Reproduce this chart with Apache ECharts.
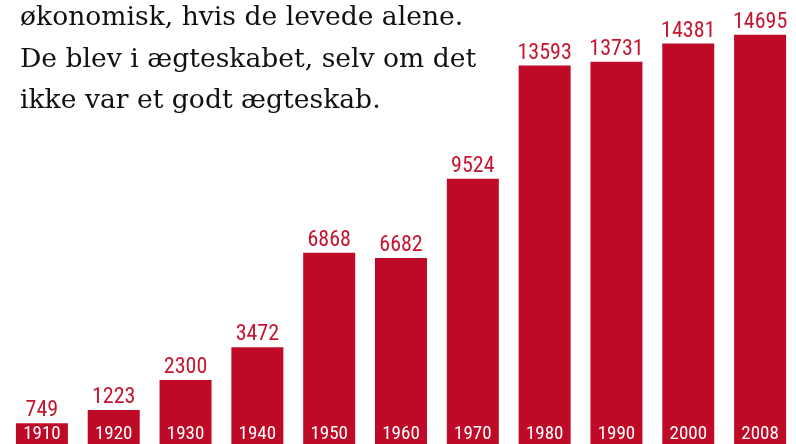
<!DOCTYPE html>
<html><head><meta charset="utf-8">
<script src="https://cdn.jsdelivr.net/npm/echarts@6/dist/echarts.min.js"></script>
<style>html,body{margin:0;padding:0;background:#fff}#c{width:796px;height:444px}</style>
</head><body><div id="c"></div>
<script>
const years = ['1910','1920','1930','1940','1950','1960','1970','1980','1990','2000','2008'];
const values = [749,1223,2300,3472,6868,6682,9524,13593,13731,14381,14695];
const textLines = ['økonomisk, hvis de levede alene.','De blev i ægteskabet, selv om det','ikke var et godt ægteskab.'];
const RED = '#be0a26';
const chart = echarts.init(document.getElementById('c'));
chart.setOption({
  animation:false,
  grid:{left:6,right:-2,top:0,bottom:-2},
  xAxis:{type:'category',data:years,show:false},
  yAxis:{type:'value',min:0,max:15946,show:false},
  graphic: textLines.map((t,i)=>({type:'text',left:20,top:5+i*41.5,style:{text:t,font:'26.6px "DejaVu Serif"',fill:'#111'}})),
  series:[{type:'bar',data:values,barWidth:52,itemStyle:{color:RED},
    label:{show:true,position:'top',distance:1.5,color:'#c41630',fontFamily:'Roboto Condensed',fontSize:22,formatter:p=>String(p.value)}
  },{type:'bar',data:values,barWidth:52,barGap:'-100%',itemStyle:{color:'transparent'},z:3,
    label:{show:true,position:'insideBottom',distance:0.5,color:'#fff',fontFamily:'Roboto Condensed',fontSize:19,formatter:p=>years[p.dataIndex]}
  }]
});
</script></body></html>
